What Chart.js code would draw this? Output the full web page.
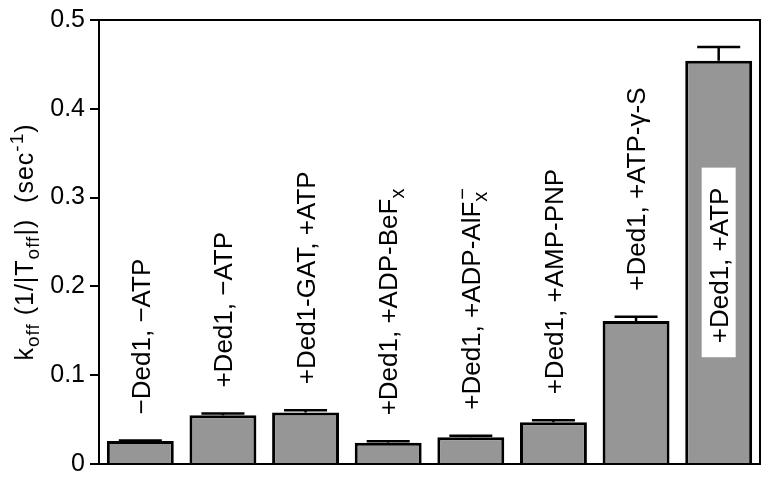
<!DOCTYPE html>
<html>
<head>
<meta charset="utf-8">
<script src="https://cdn.jsdelivr.net/npm/chart.js@4.4.0/dist/chart.umd.min.js"></script>
<style>
  html, body { margin: 0; padding: 0; background: #fff; }
  #wrap { width: 762px; height: 484px; }
</style>
</head>
<body>
<div id="wrap"><canvas id="koffChart"></canvas></div>
<script>
// conditions, measured off-rates and their errors
var conditions = ['−Ded1, −ATP', '+Ded1, −ATP', '+Ded1-GAT, +ATP', '+Ded1, +ADP-BeF_{x}',
                  '+Ded1, +ADP-AlF_{x}^{−}', '+Ded1, +AMP-PNP', '+Ded1, +ATP-γ-S', '+Ded1, +ATP'];
var koff = [0.026, 0.055, 0.058, 0.024, 0.030, 0.047, 0.161, 0.454];
var koffErr = [0.0006, 0.0018, 0.0025, 0.0015, 0.0018, 0.0022, 0.0048, 0.0155];
var yTicks = [0, 0.1, 0.2, 0.3, 0.4, 0.5];
var yTitle = 'k_{off} (1/|T_{off}|)  (sec^{-1})';

var FONT = '"Liberation Sans", Arial, sans-serif';

// split "abc_{x}^{y}" into normal / sub / sup pieces
function parseRich(s) {
  var out = [], re = /([_^])\{([^}]*)\}/g, last = 0, m;
  while ((m = re.exec(s))) {
    if (m.index > last) out.push({ t: s.slice(last, m.index), m: 'n' });
    out.push({ t: m[2], m: m[1] === '_' ? 'sub' : 'sup' });
    last = re.lastIndex;
  }
  if (last < s.length) out.push({ t: s.slice(last), m: 'n' });
  return out;
}

// draws (or just measures) rich text on the baseline, returns its width
function richText(ctx, segs, x, y, size, small, draw) {
  var pos = x, subStart = x;
  segs.forEach(function (sg, i) {
    var fs = sg.m === 'n' ? size : small;
    ctx.font = fs + 'px ' + FONT;
    var dy = sg.m === 'sub' ? size * 0.25 : (sg.m === 'sup' ? -size * 0.42 : 0);
    var stacked = sg.m === 'sup' && i > 0 && segs[i - 1].m === 'sub';
    var start = stacked ? subStart + 2 : pos;
    if (sg.m === 'sub') subStart = pos;
    var w = ctx.measureText(sg.t).width;
    if (draw) ctx.fillText(sg.t, start, y + dy);
    pos = stacked ? Math.max(pos, start + w) : start + w;
  });
  return pos - x;
}

var annotate = {
  id: 'annotate',
  afterDatasetsDraw: function (chart) {
    var ctx = chart.ctx, area = chart.chartArea, ys = chart.scales.y;
    var meta = chart.getDatasetMeta(0);
    ctx.save();

    // frame on top and right
    ctx.strokeStyle = '#000';
    ctx.lineWidth = 2;
    ctx.beginPath();
    ctx.moveTo(area.left, area.top);
    ctx.lineTo(area.right, area.top);
    ctx.lineTo(area.right, area.bottom);
    ctx.stroke();

    // error bars, upper half only
    ctx.lineWidth = 2.5;
    meta.data.forEach(function (bar, i) {
      var yTop = ys.getPixelForValue(koff[i] + koffErr[i]);
      var yBar = ys.getPixelForValue(koff[i]);
      ctx.beginPath();
      ctx.moveTo(bar.x, yBar);
      ctx.lineTo(bar.x, yTop);
      ctx.moveTo(bar.x - 21.5, yTop);
      ctx.lineTo(bar.x + 21.5, yTop);
      ctx.stroke();
    });

    // vertical condition labels
    var size = 26, small = 20, capH = size * 0.716;
    ctx.fillStyle = '#000';
    ctx.textAlign = 'left';
    ctx.textBaseline = 'alphabetic';
    meta.data.forEach(function (bar, i) {
      var segs = parseRich(conditions[i]);
      var w = richText(ctx, segs, 0, 0, size, small, false);
      var yTop = ys.getPixelForValue(koff[i] + koffErr[i]);
      var start = yTop - 26;
      if (start - w < area.top + 4) {
        // no room above: put it inside the bar on a white box
        var cy = (ys.getPixelForValue(koff[i]) + area.bottom) / 2;
        ctx.fillStyle = '#fff';
        ctx.fillRect(bar.x - 17, cy - (w + 34) / 2, 34, w + 34);
        ctx.fillStyle = '#000';
        start = cy + w / 2 + 3;
      }
      ctx.save();
      ctx.translate(bar.x + capH / 2, start);
      ctx.rotate(-Math.PI / 2);
      richText(ctx, segs, 0, 0, size, small, true);
      ctx.restore();
    });

    // y axis title
    ctx.letterSpacing = '1px';
    var tSegs = parseRich(yTitle);
    var tw = richText(ctx, tSegs, 0, 0, 25, 19, false);
    ctx.save();
    ctx.translate(33, (area.top + area.bottom) / 2 + tw / 2);
    ctx.rotate(-Math.PI / 2);
    richText(ctx, tSegs, 0, 0, 25, 19, true);
    ctx.restore();

    ctx.restore();
  }
};

var ctx = document.getElementById('koffChart').getContext('2d');
var chart = new Chart(ctx, {
  type: 'bar',
  data: {
    labels: conditions,
    datasets: [{
      data: koff,
      backgroundColor: '#969696',
      borderColor: '#000',
      borderWidth: 3,
      barPercentage: 0.81,
      categoryPercentage: 1.0
    }]
  },
  options: {
    responsive: true,
    maintainAspectRatio: false,
    animation: false,
    layout: { padding: { top: 16, right: 2, bottom: 17, left: 0 } },
    plugins: { legend: { display: false }, tooltip: { enabled: false } },
    scales: {
      x: {
        ticks: { display: false },
        grid: { display: false },
        border: { color: '#000', width: 2 },
        afterFit: function (s) { s.height = 0; }
      },
      y: {
        min: 0,
        max: 0.5,
        afterBuildTicks: function (s) { s.ticks = yTicks.map(function (v) { return { value: v }; }); },
        afterFit: function (s) { s.width = 99; },
        ticks: {
          color: '#000',
          padding: 5,
          font: { family: FONT, size: 25 },
          callback: function (v) { return v === 0 ? '0' : v.toFixed(1); }
        },
        grid: { drawOnChartArea: false, drawTicks: true, tickLength: 9, color: '#000', lineWidth: 2 },
        border: { color: '#000', width: 2 }
      }
    }
  },
  plugins: [annotate]
});
</script>
</body>
</html>
